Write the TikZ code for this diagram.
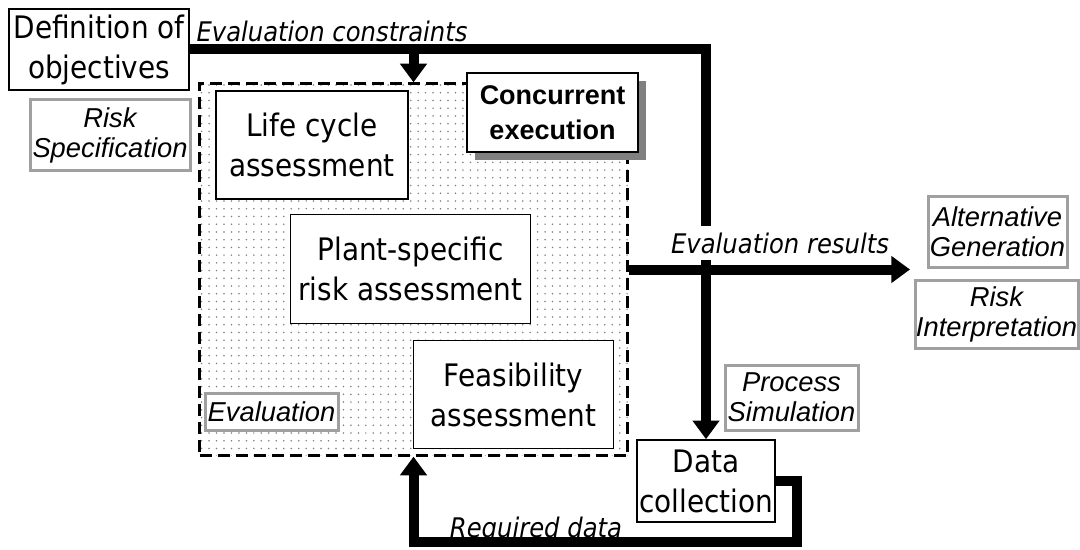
\documentclass[tikz,border=0pt]{standalone}
\usepackage{fontspec}
\newfontfamily\boxfont{DejaVu Sans}[FakeStretch=0.9]
\newfontfamily\tagfont{Liberation Sans}
\usetikzlibrary{arrows.meta}
\usetikzlibrary{patterns.meta}
\usetikzlibrary{shadows}

\definecolor{taggray}{RGB}{160,160,160}

% fine grey dots for the evaluation area
\tikzdeclarepattern{
  name=evaldots,
  type=uncolored,
  bounding box={(-0.8pt,-0.8pt) and (0.8pt,0.8pt)},
  tile size={(5.6pt,5.8pt)},
  code={\pgfpathcircle{\pgfpointorigin}{0.65pt}\pgfusepath{fill}}
}

\tikzset{
  wh/.style 2 args={minimum width=#1*0.75pt, minimum height=#2*0.75pt},
  box/.style={draw, line width=1.2pt, fill=white, inner sep=0pt, align=center,
    font=\boxfont\fontsize{23.25}{30}\selectfont},
  tag/.style={draw=taggray, line width=2.25pt, fill=white, inner sep=0pt, align=center,
    font=\tagfont\itshape\fontsize{20.5}{22.5}\selectfont},
  evalarea/.style={draw, line width=1.7pt, dash pattern=on 9pt off 4.5pt,
    pattern={evaldots}, pattern color=black!50},
  flowlabel/.style={font=\boxfont\itshape\fontsize{20.25}{24}\selectfont,
    inner xsep=1pt, inner ysep=5pt, anchor=base},
  flow/.style={line width=7.5pt, -{Triangle[width=19.5pt,length=14pt]}},
}

\begin{document}
\begin{tikzpicture}[x=0.75pt, y=-0.75pt]
\useasboundingbox (0,0) rectangle (1080,549);

\node[box, wh={180}{81}] (objectives) at (99,49.5) {Definition of\\objectives};
\node[tag, wh={160}{70}] (riskspec) at (110,135) {Risk\\Specification};

% evaluation block
\node[evalarea, wh={428}{372}] (evalbox) at (413.5,269.5) {};
\node[box, wh={192}{108}] (lca) at (312,145) {Life cycle\\assessment};
\node[box, wh={240}{109}] (plant) at (410.5,269) {Plant-specific\\risk assessment};
\node[box, wh={200}{108}] (feas) at (513.5,394.5) {Feasibility\\assessment};
\node[tag, wh={133}{37}] (evaltag) at (271.5,411.5) {Evaluation};
\node[box, wh={171}{79}, font=\tagfont\bfseries\fontsize{20.25}{26}\selectfont,
  drop shadow={shadow xshift=6pt, shadow yshift=-6pt, fill=gray, opacity=1}]
  (concurrent) at (552.5,112.5) {Concurrent\\execution};

\node[box, wh={138}{82}] (datacoll) at (706,481) {Data\\collection};
\node[tag, wh={133}{65}] (procsim) at (791.5,397.5) {Process\\Simulation};
\node[tag, wh={139}{71}] (altgen) at (997.5,231.5) {Alternative\\Generation};
\node[tag, wh={163}{68}] (riskint) at (996.5,314) {Risk\\Interpretation};

% flows
\coordinate (resultsend) at (910,269.5);
\draw[flow] (objectives.east) -| (datacoll.north);
\draw[flow] (evalbox.north |- objectives.east) -- (evalbox.north);
\draw[flow] (evalbox.east) -- (resultsend);
\draw[flow] (datacoll.east) -- ++(21,0) -- ++(0,61) -| (evalbox.south);

\node[flowlabel] (constraints) at (332,42) {Evaluation constraints};
\node[flowlabel, fill=white] (results) at (780,253) {Evaluation results};
\node[flowlabel] (required) at (536,537) {Required data};
\end{tikzpicture}
\end{document}
